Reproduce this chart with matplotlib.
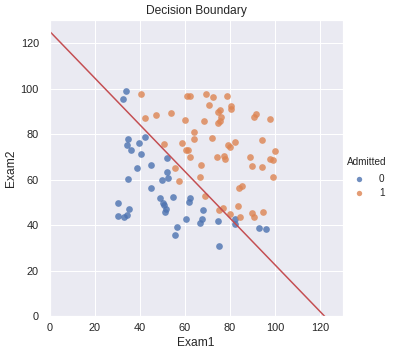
import matplotlib
matplotlib.use("Agg")
import matplotlib.pyplot as plt
import seaborn as sns
import numpy as np

sns.set_theme(style="darkgrid")
plt.rcParams['font.family'] = ['Liberation Sans', 'DejaVu Sans']

exam1_0 = [34.62, 30.29, 35.85, 45.08, 95.86, 75.01, 39.54, 67.95, 67.37, 50.53,
           34.21, 93.11, 61.83, 38.79, 52.11, 52.05, 40.24, 54.64, 33.92, 74.79,
           34.18, 51.55, 82.37, 51.05, 62.22, 34.52, 50.29, 49.59, 32.58, 35.29,
           56.25, 30.06, 44.67, 66.56, 49.07, 32.72, 60.46, 82.23, 42.08, 52.35,
           55.48]
exam2_0 = [78.02, 43.89, 72.90, 56.32, 38.23, 30.60, 76.04, 46.68, 42.84, 48.86,
           44.21, 38.80, 50.26, 65.00, 63.13, 69.43, 71.17, 52.21, 98.87, 41.57,
           75.24, 46.86, 40.62, 45.82, 52.06, 60.40, 49.80, 59.81, 95.60, 47.02,
           39.26, 49.59, 66.45, 41.09, 51.88, 43.31, 42.51, 42.72, 78.84, 60.77,
           35.57]
exam1_1 = [60.18, 79.03, 61.11, 75.02, 76.10, 84.43, 82.31, 69.36, 53.97, 69.07,
           70.66, 76.98, 89.68, 77.92, 62.27, 80.19, 61.38, 85.40, 64.18, 83.90,
           94.44, 77.19, 97.77, 62.07, 91.56, 79.94, 99.27, 90.55, 97.65, 74.25,
           71.80, 75.40, 40.46, 80.28, 66.75, 64.04, 72.35, 60.46, 58.84, 99.83,
           47.26, 50.46, 88.91, 94.83, 67.32, 57.24, 80.37, 68.47, 75.48, 78.64,
           94.09, 90.45, 74.49, 89.85, 83.49, 42.26, 99.32, 55.34, 74.78]
exam2_1 = [86.31, 75.34, 96.51, 46.55, 87.42, 43.53, 76.48, 97.72, 89.21, 52.74,
           92.93, 47.58, 65.80, 68.97, 69.95, 44.82, 72.81, 57.05, 80.91, 56.31,
           65.57, 70.46, 86.73, 96.77, 88.70, 74.16, 61.00, 43.39, 68.86, 69.82,
           78.45, 85.76, 97.54, 92.12, 60.99, 78.03, 96.23, 73.09, 75.86, 72.37,
           88.48, 75.81, 69.80, 45.69, 66.59, 59.51, 90.96, 85.59, 90.42, 96.65,
           77.16, 87.51, 84.85, 45.36, 48.38, 87.10, 68.78, 64.93, 89.53]

# decision boundary line (x1 range, intercept and slope)
boundary_x = [0, 130]
boundary_intercept = 125.0
boundary_slope = -1.025

W, H = 397, 356
fig = plt.figure(figsize=(W / 72, H / 72), dpi=72)
ax = fig.add_axes([50 / W, 1 - 316 / H, 292.5 / W, (316 - 20.3) / H])

blue = "#4C72B0"
orange = "#DD8452"
h0 = ax.scatter(exam1_0, exam2_0, s=45, color=blue, alpha=0.8, linewidths=0, label="0")
h1 = ax.scatter(exam1_1, exam2_1, s=45, color=orange, alpha=0.8, linewidths=0, label="1")

bx = np.array(boundary_x, dtype=float)
ax.plot(bx, boundary_intercept + boundary_slope * bx, color="#C44E52", lw=1.5)

ax.set_xlim(0, 130)
ax.set_ylim(0, 130)
ax.set_xticks([0, 20, 40, 60, 80, 100, 120])
ax.set_yticks([0, 20, 40, 60, 80, 100, 120])
ax.tick_params(axis="x", labelsize=11, length=0, pad=7)
ax.tick_params(axis="y", labelsize=11, length=0, pad=11)
ax.set_xlabel("Exam1", fontsize=12, labelpad=4)
ax.set_ylabel("Exam2", fontsize=12, labelpad=4)
ax.set_title("Decision Boundary", fontsize=12, pad=6)

leg = fig.legend(handles=[h0, h1], labels=["0", "1"], title="Admitted",
                 loc="upper left", bbox_to_anchor=(347 / W, 1 - 157 / H),
                 frameon=False, fontsize=10, title_fontsize=10,
                 borderpad=0, borderaxespad=0, labelspacing=0.35,
                 handletextpad=1.0, markerscale=0.8)
leg._legend_box.sep = 7

fig.savefig("out.png", dpi=72)
